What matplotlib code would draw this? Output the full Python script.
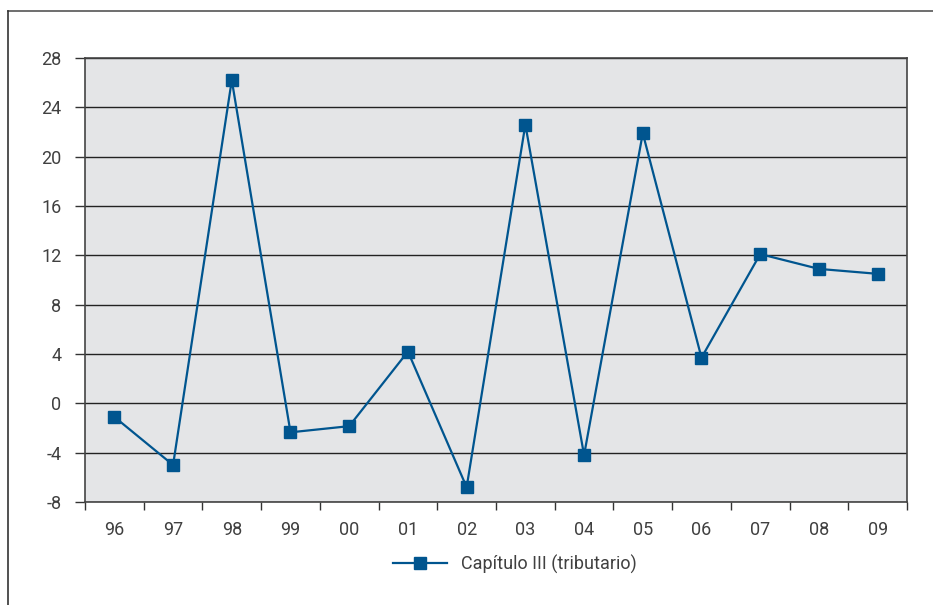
import numpy as np
import matplotlib.pyplot as plt
from matplotlib.lines import Line2D

years = ['96', '97', '98', '99', '00', '01', '02', '03', '04', '05', '06', '07', '08', '09']
capitulo_iii = [-1.1, -5.0, 26.2, -2.35, -1.85, 4.2, -6.8, 22.6, -4.2, 21.9, 3.7, 12.1, 10.9, 10.5]

line_color = '#00558f'
text_color = '#404040'

plt.rcParams['font.family'] = ['Roboto', 'DejaVu Sans']
plt.rcParams['axes.unicode_minus'] = False

fig = plt.figure(figsize=(9.33, 6.05), dpi=100)
ax = fig.add_axes([85/933, 1 - 502/605, (907 - 85)/933, (502 - 58)/605])
ax.set_facecolor('#e4e5e7')

x = np.arange(len(years))
ax.plot(x, capitulo_iii, color=line_color, lw=1.6, marker='s', ms=9,
        markerfacecolor=line_color, markeredgecolor=line_color,
        label='Capítulo III (tributario)', zorder=3)

ax.set_ylim(-8, 28)
ax.set_yticks(np.arange(-8, 29, 4))
ax.set_xlim(-0.5, len(years) - 0.5)
ax.set_xticks(np.arange(-0.5, len(years), 1))
ax.set_xticklabels([])
ax.set_xticks(x, minor=True)
ax.set_xticklabels(years, minor=True)
ax.tick_params(axis='x', which='minor', length=0, pad=14, labelsize=13, labelcolor=text_color)
ax.tick_params(axis='x', which='major', length=6, width=1, color='#333333', direction='out')
ax.tick_params(axis='y', length=7, width=1, color='#333333', direction='out',
               labelsize=13, labelcolor=text_color, pad=10)

ax.grid(axis='y', color='#222222', lw=1.0)
ax.set_axisbelow(True)
for s in ax.spines.values():
    s.set_color('#444444')
    s.set_linewidth(1.2)

leg = fig.legend(loc='center', bbox_to_anchor=(515/933, 1 - 564/605), frameon=False,
                 fontsize=13, handlelength=3.0, labelcolor=text_color)

# outer frame (top and left edges)
fig.add_artist(Line2D([8/933, 1], [1 - 11/605, 1 - 11/605], color='#555555', lw=1.2))
fig.add_artist(Line2D([8/933, 8/933], [0, 1 - 11/605], color='#333333', lw=1.2))

fig.savefig('out.png', dpi=100)
